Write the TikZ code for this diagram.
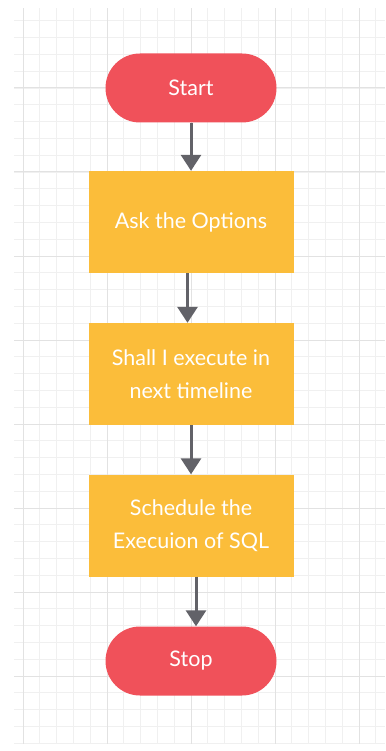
\documentclass[tikz,border=0pt]{standalone}
\usepackage{fontspec}
\setmainfont{Lato}
\usetikzlibrary{arrows.meta}
\definecolor{termred}{HTML}{F0515A}
\definecolor{procyel}{HTML}{FBBD3A}
\definecolor{arrgray}{HTML}{626268}
\definecolor{gridminor}{HTML}{F0F0F0}
\definecolor{gridmajor}{HTML}{E2E2E2}
\tikzset{
  term/.style={fill=termred, draw=none, minimum width=171pt, minimum height=69pt,
    rounded corners=34.5pt, text=white, font=\fontsize{21.5}{32}\selectfont, inner sep=0pt},
  proc/.style={fill=procyel, draw=none, minimum width=205pt, minimum height=102pt,
    text=white, font=\fontsize{21.5}{33}\selectfont, align=center, inner sep=0pt},
  flow/.style={arrgray, line width=3pt, -{Triangle[width=20pt,length=16pt]}},
}
\begin{document}
\begin{tikzpicture}[x=1pt,y=-1pt]
\useasboundingbox (0,0) rectangle (385,751);
\fill[white] (0,0) rectangle (385,751);
\begin{scope}
\clip (14,9) rectangle (385,743);
\foreach \k in {-1,...,22} {
  \draw[gridminor, line width=0.8pt] ({23+16.8*\k},0) -- ({23+16.8*\k},751);
}
\foreach \k in {-6,...,40} {
  \draw[gridminor, line width=0.8pt] (0,{88+16.8*\k}) -- (385,{88+16.8*\k});
}
\foreach \k in {0,...,4} {
  \draw[gridmajor, line width=1pt] ({23+84*\k},0) -- ({23+84*\k},751);
}
\foreach \k in {-1,...,8} {
  \draw[gridmajor, line width=1pt] (0,{88+84*\k}) -- (385,{88+84*\k});
}
\end{scope}
\node[term] (start) at (191,88) {Start};
\node[proc] (ask) at (191,222) {Ask the Options};
\node[proc] (shall) at (191,374) {Shall I execute in\\next timeline};
\node[proc] (sched) at (191,525.5) {Schedule the\\Execuion of SQL};
\node[term] (stop) at (191,661) {Stop};
\draw[flow] (start.south) -- (ask.north);
\draw[flow] ([xshift=-3.5pt]ask.south) -- ([xshift=-3.5pt]shall.north);
\draw[flow] (shall.south) -- (sched.north);
\draw[flow] ([xshift=5pt]sched.south) -- ([xshift=5pt]stop.north);
\end{tikzpicture}
\end{document}
